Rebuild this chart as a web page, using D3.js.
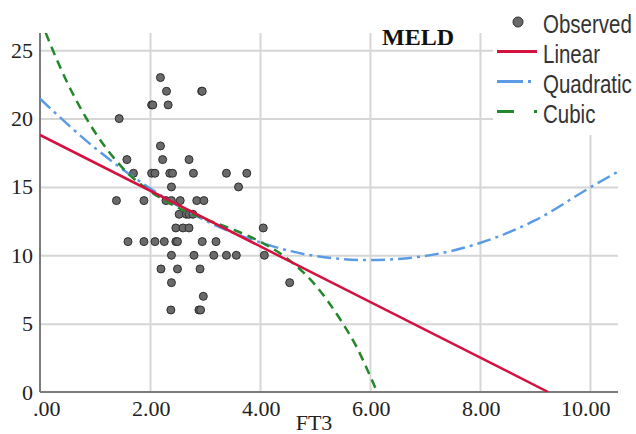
<!DOCTYPE html>
<html>
<head>
<meta charset="utf-8">
<script src="https://cdn.jsdelivr.net/npm/d3@7"></script>
<style>
  body { margin: 0; background: #fff; }
</style>
</head>
<body>
<svg id="chart" width="636" height="434"></svg>
<script>
// observed MELD scores against FT3
var obsX = [2.19,
  2.30, 2.94, 2.95,
  2.03, 2.05, 2.33,
  1.44,
  2.19,
  1.58, 2.23, 2.71,
  1.70, 2.03, 2.09, 2.36, 2.41, 2.79, 3.39, 3.76,
  2.39, 3.61,
  1.39, 1.89, 2.29, 2.39, 2.55, 2.85, 2.98,
  2.53, 2.66, 2.71, 2.78,
  2.47, 2.60, 2.71, 4.06,
  1.60, 1.89, 2.09, 2.26, 2.47, 2.50, 2.95, 3.20,
  2.39, 2.80, 3.16, 3.39, 3.57, 4.08,
  2.20, 2.50, 2.91,
  2.39, 4.54,
  2.97,
  2.38, 2.89, 2.92];
var obsY = [23,
  22, 22, 22,
  21, 21, 21,
  20,
  18,
  17, 17, 17,
  16, 16, 16, 16, 16, 16, 16, 16,
  15, 15,
  14, 14, 14, 14, 14, 14, 14,
  13, 13, 13, 13,
  12, 12, 12, 12,
  11, 11, 11, 11, 11, 11, 11, 11,
  10, 10, 10, 10, 10, 10,
  9, 9, 9,
  8, 8,
  7,
  6, 6, 6];

// fitted curves
var linearX = [0, 9.24];
var linearY = [18.8, 0];
var quadX = [0, 1, 2, 3, 4, 5, 6, 7, 8, 9, 10, 10.5];
var quadY = [21.45, 17.85, 14.9, 12.55, 10.95, 9.95, 9.65, 9.95, 10.9, 12.55, 14.95, 16.1];
var cubicX = [0, 0.5, 1, 1.5, 2, 2.5, 3, 3.5, 4, 4.5, 5, 5.5, 5.75, 6, 6.12];
var cubicY = [27.3, 22.6, 19.0, 16.4, 14.7, 13.5, 12.65, 11.9, 11.0, 9.75, 7.85, 5.05, 3.35, 1.2, 0.1];

var xTicks = [0, 2, 4, 6, 8, 10];
var xTickLabels = [".00", "2.00", "4.00", "6.00", "8.00", "10.00"];
var yTicks = [0, 5, 10, 15, 20, 25];

var legendNames = ["Observed", "Linear", "Quadratic", "Cubic"];

var plotLeft = 40, plotRight = 618, plotTop = 33, plotBottom = 392;

var svg = d3.select("#chart");

var x = d3.scaleLinear().domain([0, 10.51]).range([plotLeft, plotRight]);
var y = d3.scaleLinear().domain([0, 26.26]).range([plotBottom, plotTop]);

svg.append("defs").append("clipPath").attr("id", "plot")
  .append("rect")
  .attr("x", plotLeft).attr("y", plotTop)
  .attr("width", plotRight - plotLeft).attr("height", plotBottom - plotTop);

// grid
var gx = svg.append("g")
  .attr("transform", "translate(0," + plotBottom + ")")
  .call(d3.axisBottom(x).tickValues(xTicks.slice(1)).tickSize(-(plotBottom - plotTop)).tickFormat(""));
var gy = svg.append("g")
  .attr("transform", "translate(" + plotLeft + ",0)")
  .call(d3.axisLeft(y).tickValues(yTicks.slice(1)).tickSize(-(plotRight - plotLeft)).tickFormat(""));
[gx, gy].forEach(function (g) {
  g.select(".domain").remove();
  g.selectAll("line").attr("stroke", "#d6d6d6").attr("stroke-width", 2);
});

// axis lines
svg.append("line")
  .attr("x1", plotLeft).attr("x2", plotLeft).attr("y1", plotTop).attr("y2", plotBottom)
  .attr("stroke", "#7c7c7c").attr("stroke-width", 2);
svg.append("line")
  .attr("x1", plotLeft).attr("x2", plotRight).attr("y1", plotBottom).attr("y2", plotBottom)
  .attr("stroke", "#7c7c7c").attr("stroke-width", 2);

// tick labels
var ay = svg.append("g")
  .attr("transform", "translate(" + plotLeft + ",0)")
  .call(d3.axisLeft(y).tickValues(yTicks).tickSize(0).tickPadding(7));
var ax = svg.append("g")
  .attr("transform", "translate(0," + plotBottom + ")")
  .call(d3.axisBottom(x).tickValues(xTicks).tickSize(0).tickPadding(8)
    .tickFormat(function (d, i) { return xTickLabels[i]; }));
[ax, ay].forEach(function (g) {
  g.select(".domain").remove();
  g.attr("font-family", "'Liberation Serif', 'Times New Roman', serif")
    .attr("font-size", 22);
  g.selectAll("text").attr("fill", "#222");
});
ax.selectAll("text").attr("text-anchor", "end").attr("dx", 20);

svg.append("text")
  .attr("x", 314).attr("y", 430)
  .attr("text-anchor", "middle")
  .attr("font-family", "'Liberation Serif', 'Times New Roman', serif")
  .attr("font-size", 22)
  .attr("fill", "#222")
  .text("FT3");

// points
svg.append("g").selectAll("circle")
  .data(obsX)
  .enter()
  .append("circle")
  .attr("cx", function (d) { return x(d); })
  .attr("cy", function (d, i) { return y(obsY[i]); })
  .attr("r", 4)
  .attr("fill", "#6a6a6a")
  .attr("stroke", "#2e2e2e")
  .attr("stroke-width", 1);

// curves
var line = d3.line()
  .x(function (d) { return x(d[0]); })
  .y(function (d) { return y(d[1]); })
  .curve(d3.curveMonotoneX);

function pairs(xs, ys) {
  return xs.map(function (v, i) { return [v, ys[i]]; });
}

var curves = svg.append("g").attr("clip-path", "url(#plot)").attr("fill", "none");
curves.append("path")
  .attr("d", line(pairs(quadX, quadY)))
  .attr("stroke", "#5b9be6").attr("stroke-width", 2.5)
  .attr("stroke-dasharray", "14,5,3,5");
curves.append("path")
  .attr("d", line(pairs(cubicX, cubicY)))
  .attr("stroke", "#23882a").attr("stroke-width", 2.5)
  .attr("stroke-dasharray", "9,6");
curves.append("path")
  .attr("d", line(pairs(linearX, linearY)))
  .attr("stroke", "#d4123f").attr("stroke-width", 2.5);

// title
svg.append("text")
  .attr("x", 418).attr("y", 45)
  .attr("text-anchor", "middle")
  .attr("font-family", "'Liberation Serif', 'Times New Roman', serif")
  .attr("font-weight", "bold")
  .attr("font-size", 24)
  .attr("fill", "#111")
  .text("MELD");

// legend
var legend = svg.append("g");
legend.append("rect")
  .attr("x", 493).attr("y", 0).attr("width", 143).attr("height", 135)
  .attr("fill", "#fff");

var rowY = [22, 51.5, 81.5, 111.5];
legend.append("circle")
  .attr("cx", 518).attr("cy", rowY[0]).attr("r", 5)
  .attr("fill", "#6a6a6a").attr("stroke", "#2e2e2e").attr("stroke-width", 1);
legend.append("line")
  .attr("x1", 497).attr("x2", 537).attr("y1", rowY[1]).attr("y2", rowY[1])
  .attr("stroke", "#d4123f").attr("stroke-width", 3);
legend.append("line")
  .attr("x1", 497).attr("x2", 533).attr("y1", rowY[2]).attr("y2", rowY[2])
  .attr("stroke", "#5b9be6").attr("stroke-width", 3)
  .attr("stroke-dasharray", "26,5,3,20");
legend.append("line")
  .attr("x1", 497).attr("x2", 537).attr("y1", rowY[3]).attr("y2", rowY[3])
  .attr("stroke", "#23882a").attr("stroke-width", 3)
  .attr("stroke-dasharray", "17,20,3,20");

legend.selectAll("text.lab")
  .data(legendNames)
  .enter()
  .append("text")
  .attr("class", "lab")
  .attr("transform", function (d, i) {
    return "translate(543," + (rowY[i] + 11) + ") scale(0.82,1)";
  })
  .attr("font-family", "'Liberation Sans', Arial, sans-serif")
  .attr("font-size", 25)
  .attr("fill", "#333")
  .text(function (d) { return d; });
</script>
</body>
</html>
